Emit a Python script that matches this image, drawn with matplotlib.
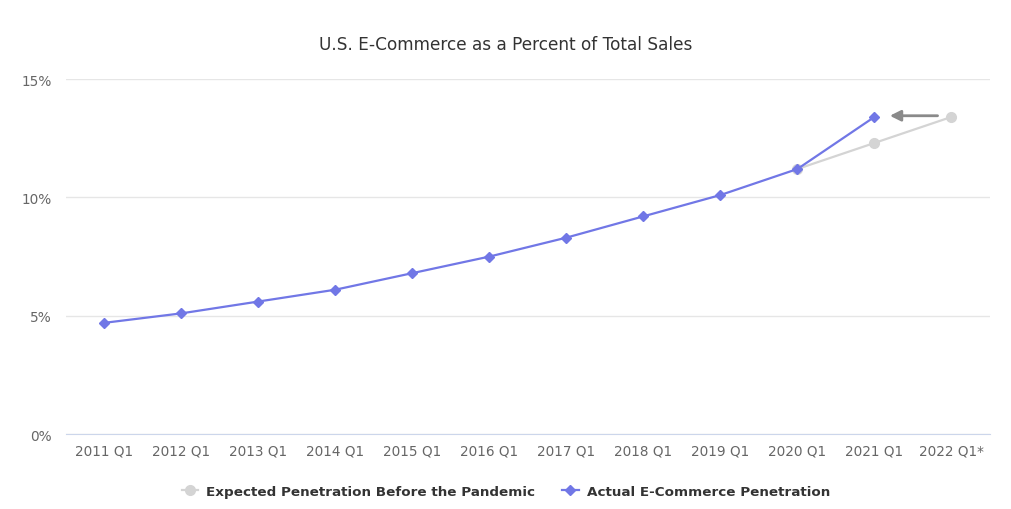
#!/usr/bin/env python3
"""U.S. e-commerce share of total retail sales, actual vs. pre-pandemic trend."""

import matplotlib.pyplot as plt
from matplotlib.ticker import FuncFormatter

categories = ["2011 Q1", "2012 Q1", "2013 Q1", "2014 Q1", "2015 Q1", "2016 Q1",
              "2017 Q1", "2018 Q1", "2019 Q1", "2020 Q1", "2021 Q1", "2022 Q1*"]
actual = [4.7, 5.1, 5.6, 6.1, 6.8, 7.5, 8.3, 9.2, 10.1, 11.2, 13.4]
# expected trend only starts at 2020 Q1
expected_idx = [9, 10, 11]
expected = [11.2, 12.3, 13.4]
y_ticks = [0, 5, 10, 15]

BLUE = "#7177e6"
GREY = "#d4d4d4"

plt.rcParams["font.family"] = ["DejaVu Sans"]

fig = plt.figure(figsize=(10.12, 5.10), dpi=100)
ax = fig.add_axes([0.0652, 0.147, 0.913, 0.696])

ax.plot(expected_idx, expected, color=GREY, lw=1.6, marker="o", ms=7,
        label="Expected Penetration Before the Pandemic", zorder=2)
ax.plot(range(len(actual)), actual, color=BLUE, lw=1.6, marker="D", ms=5,
        label="Actual E-Commerce Penetration", zorder=3)

# arrow pointing from the expected 2022 value back to the actual 2021 value
ax.annotate("", xy=(expected_idx[1] + 0.2, expected[-1] + 0.05),
            xytext=(expected_idx[2] - 0.18, expected[-1] + 0.05),
            arrowprops=dict(arrowstyle="-|>", color="#8a8a8a", lw=2,
                            mutation_scale=16, shrinkA=0, shrinkB=0))

ax.set_xlim(-0.5, len(categories) - 0.5)
ax.set_ylim(0, 15)
ax.set_xticks(range(len(categories)))
ax.set_xticklabels(categories)
ax.set_yticks(y_ticks)
ax.yaxis.set_major_formatter(FuncFormatter(lambda v, _: f"{v:.0f}%"))
ax.tick_params(axis="both", length=0, labelsize=9.8, labelcolor="#666666")
ax.tick_params(axis="x", pad=7)
ax.tick_params(axis="y", pad=10)
ax.grid(axis="y", color="#e6e6e6", lw=1)
ax.set_axisbelow(True)
for side in ["top", "right", "left"]:
    ax.spines[side].set_visible(False)
ax.spines["bottom"].set_color("#ccd6eb")

fig.text(0.5, 0.911, "U.S. E-Commerce as a Percent of Total Sales",
         ha="center", va="center", fontsize=12.2, color="#333333")

leg = fig.legend(loc="center", bbox_to_anchor=(0.5, 0.035), ncol=2, frameon=False,
                 handlelength=1.2, columnspacing=2.0, handletextpad=0.6,
                 prop={"weight": "bold", "size": 9.7})
for t in leg.get_texts():
    t.set_color("#333333")

plt.savefig("out.png", dpi=100)
